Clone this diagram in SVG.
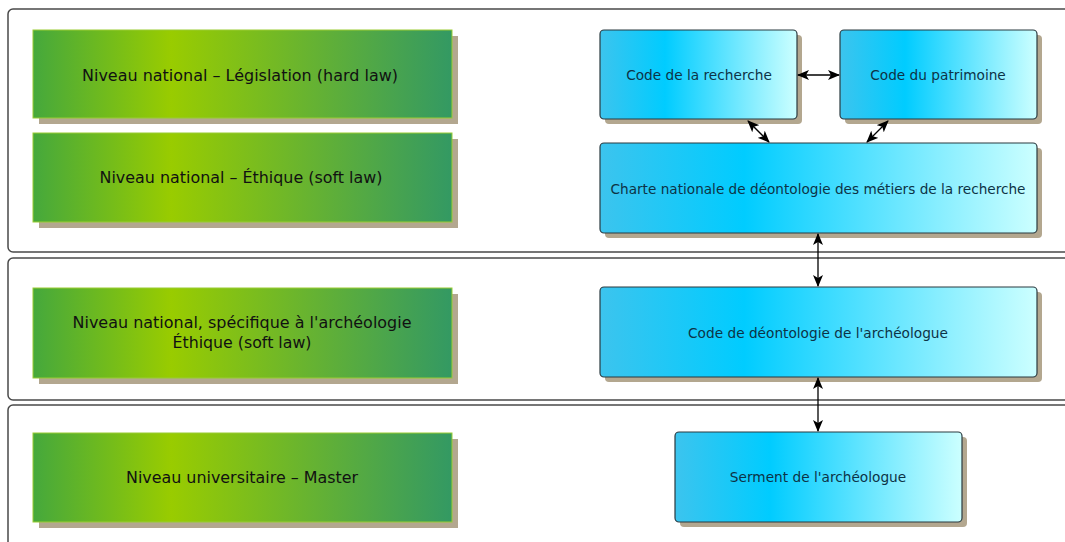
<svg xmlns="http://www.w3.org/2000/svg" width="1065" height="542" viewBox="0 0 1065 542">
<defs>
<linearGradient id="gGreen" x1="0" y1="0" x2="1" y2="0">
<stop offset="0" stop-color="#45a83c"/>
<stop offset="0.33" stop-color="#99cc00"/>
<stop offset="1" stop-color="#339963"/>
</linearGradient>
<linearGradient id="gBlue" x1="0" y1="0" x2="1" y2="0">
<stop offset="0" stop-color="#3cc4ee"/>
<stop offset="0.33" stop-color="#00ccff"/>
<stop offset="1" stop-color="#ccffff"/>
</linearGradient>
<marker id="ah" viewBox="0 0 12 10" refX="11" refY="5" markerWidth="12" markerHeight="10" markerUnits="userSpaceOnUse" orient="auto-start-reverse">
<path d="M0,0 L12,5 L0,10 L3,5 Z" fill="#000"/>
</marker>
</defs>
<style>
.panel{fill:#fff;stroke:#4a4a4a;stroke-width:1.5}
.shadow{fill:#b3a78f}
.green{fill:url(#gGreen);stroke:#9c3;stroke-width:1}
.blue{fill:url(#gBlue);stroke:#2a3a40;stroke-width:1.2}
.t{font-family:"DejaVu Sans",sans-serif;text-anchor:middle}
.tg{fill:#111;font-size:15px}
.tb{fill:#0d3346;font-size:13.7px}
.c{stroke:#000;stroke-width:1.3;fill:none;marker-start:url(#ah);marker-end:url(#ah)}
</style>
<rect width="1065" height="542" fill="#fff"/>
<g id="panels">
<rect class="panel" x="8" y="9" width="1070" height="243" rx="5"/>
<rect class="panel" x="8" y="258" width="1070" height="142" rx="5"/>
<rect class="panel" x="8" y="405" width="1070" height="150" rx="5"/>
</g>
<g id="n-legislation">
<rect class="shadow" x="39" y="36" width="419" height="88"/>
<rect class="green" x="33" y="30" width="419" height="88"/>
<text class="t tg" x="240" y="81" textLength="316" lengthAdjust="spacingAndGlyphs">Niveau national – Législation (hard law)</text>
</g>
<g id="n-ethique">
<rect class="shadow" x="39" y="139" width="419" height="89"/>
<rect class="green" x="33" y="133" width="419" height="89"/>
<text class="t tg" x="241" y="183" textLength="283" lengthAdjust="spacingAndGlyphs">Niveau national – Éthique (soft law)</text>
</g>
<g id="n-archeo">
<rect class="shadow" x="39" y="294" width="419" height="90"/>
<rect class="green" x="33" y="288" width="419" height="90"/>
<text class="t tg" x="242" y="328" textLength="339" lengthAdjust="spacingAndGlyphs">Niveau national, spécifique à l'archéologie</text>
<text class="t tg" x="242" y="348" textLength="139" lengthAdjust="spacingAndGlyphs">Éthique (soft law)</text>
</g>
<g id="n-master">
<rect class="shadow" x="39" y="439" width="419" height="89"/>
<rect class="green" x="33" y="433" width="419" height="89"/>
<text class="t tg" x="242" y="483" textLength="232" lengthAdjust="spacingAndGlyphs">Niveau universitaire – Master</text>
</g>
<g id="n-recherche">
<rect class="shadow" x="605" y="35" width="197" height="89" rx="4"/>
<rect class="blue" x="600" y="30" width="197" height="89" rx="4"/>
<text class="t tb" x="699" y="80">Code de la recherche</text>
</g>
<g id="n-patrimoine">
<rect class="shadow" x="845" y="35" width="197" height="89" rx="4"/>
<rect class="blue" x="840" y="30" width="197" height="89" rx="4"/>
<text class="t tb" x="938" y="80">Code du patrimoine</text>
</g>
<g id="n-charte">
<rect class="shadow" x="605" y="148" width="437" height="90" rx="4"/>
<rect class="blue" x="600" y="143" width="437" height="90" rx="4"/>
<text class="t tb" x="818" y="194" textLength="415" lengthAdjust="spacingAndGlyphs">Charte nationale de déontologie des métiers de la recherche</text>
</g>
<g id="n-deontologie">
<rect class="shadow" x="605" y="292" width="437" height="90" rx="4"/>
<rect class="blue" x="600" y="287" width="437" height="90" rx="4"/>
<text class="t tb" x="818" y="338">Code de déontologie de l'archéologue</text>
</g>
<g id="n-serment">
<rect class="shadow" x="680" y="437" width="287" height="90" rx="4"/>
<rect class="blue" x="675" y="432" width="287" height="90" rx="4"/>
<text class="t tb" x="818" y="482">Serment de l'archéologue</text>
</g>
<g id="connectors">
<line class="c" x1="798" y1="75" x2="839" y2="75"/>
<line class="c" x1="748" y1="121" x2="769" y2="142"/>
<line class="c" x1="888" y1="121" x2="867" y2="142"/>
<line class="c" x1="818" y1="234" x2="818" y2="286"/>
<line class="c" x1="818" y1="378" x2="818" y2="431"/>
</g>
</svg>
